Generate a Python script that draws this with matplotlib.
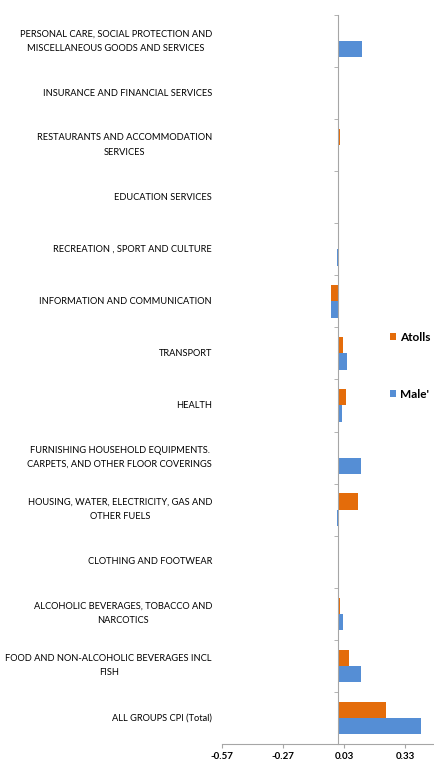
import matplotlib.pyplot as plt
import numpy as np
from matplotlib.transforms import blended_transform_factory

plt.rcParams['font.family'] = ['Lato', 'DejaVu Sans']

# categories bottom -> top
kategorier = [
    "ALL GROUPS CPI (Total)",
    "FOOD AND NON-ALCOHOLIC BEVERAGES INCL\nFISH",
    "ALCOHOLIC BEVERAGES, TOBACCO AND\nNARCOTICS",
    "CLOTHING AND FOOTWEAR",
    "HOUSING, WATER, ELECTRICITY, GAS AND\nOTHER FUELS",
    "FURNISHING HOUSEHOLD EQUIPMENTS.\nCARPETS, AND OTHER FLOOR COVERINGS",
    "HEALTH",
    "TRANSPORT",
    "INFORMATION AND COMMUNICATION",
    "RECREATION , SPORT AND CULTURE",
    "EDUCATION SERVICES",
    "RESTAURANTS AND ACCOMMODATION\nSERVICES",
    "INSURANCE AND FINANCIAL SERVICES",
    "PERSONAL CARE, SOCIAL PROTECTION AND\nMISCELLANEOUS GOODS AND SERVICES",
]
atolls = [0.236, 0.055, 0.012, 0.0, 0.10, 0.008, 0.038, 0.027, -0.035, 0.0, 0.0, 0.012, 0.0, 0.0]
male = [0.41, 0.115, 0.025, 0.005, -0.003, 0.113, 0.022, 0.047, -0.035, -0.003, 0.0, 0.0, 0.0, 0.118]
x_ticks = [-0.57, -0.27, 0.03, 0.33]

fig = plt.figure(figsize=(4.35, 7.65), dpi=100)
ax = fig.add_axes([0.5103, 0.0275, 0.4897, 0.953])

y = np.arange(len(kategorier))
h = 0.3125
ax.barh(y + h / 2, atolls, height=h, color='#E46C0A', label='Atolls')
ax.barh(y - h / 2, male, height=h, color='#558ED5', label="Male'")

ax.set_xlim(-0.57, 0.478)
ax.set_ylim(-0.5, len(kategorier) - 0.5)

# axlar i Excel-stil
for s in ['top', 'right']:
    ax.spines[s].set_visible(False)
ax.spines['left'].set_position(('data', 0))
ax.spines['left'].set_color('#A6A6A6')
ax.spines['bottom'].set_color('#A6A6A6')

ax.set_yticks(y)
ax.set_yticklabels([])
ax.tick_params(axis='y', which='major', length=0)
ax.set_yticks(np.arange(-0.5, len(kategorier)), minor=True)
ax.tick_params(axis='y', which='minor', length=3, color='#A6A6A6')

ax.set_xticks(x_ticks)
ax.set_xticklabels([f"{v:.2f}" for v in x_ticks], fontsize=7, fontweight='bold')
ax.tick_params(axis='x', length=3, color='#A6A6A6', pad=3)

trans = blended_transform_factory(ax.transAxes, ax.transData)
for i, namn in enumerate(kategorier):
    ax.text(-0.047, i, namn, transform=trans, ha='right', va='center',
            multialignment='center', fontsize=6.7, linespacing=1.75)

fig.legend(loc='upper left', bbox_to_anchor=(0.872, 0.58), frameon=False,
           prop={'size': 8.5, 'weight': 'bold'}, handlelength=0.55, handleheight=0.55,
           handletextpad=0.3, labelspacing=3.9)

fig.savefig('out.png', dpi=100)
